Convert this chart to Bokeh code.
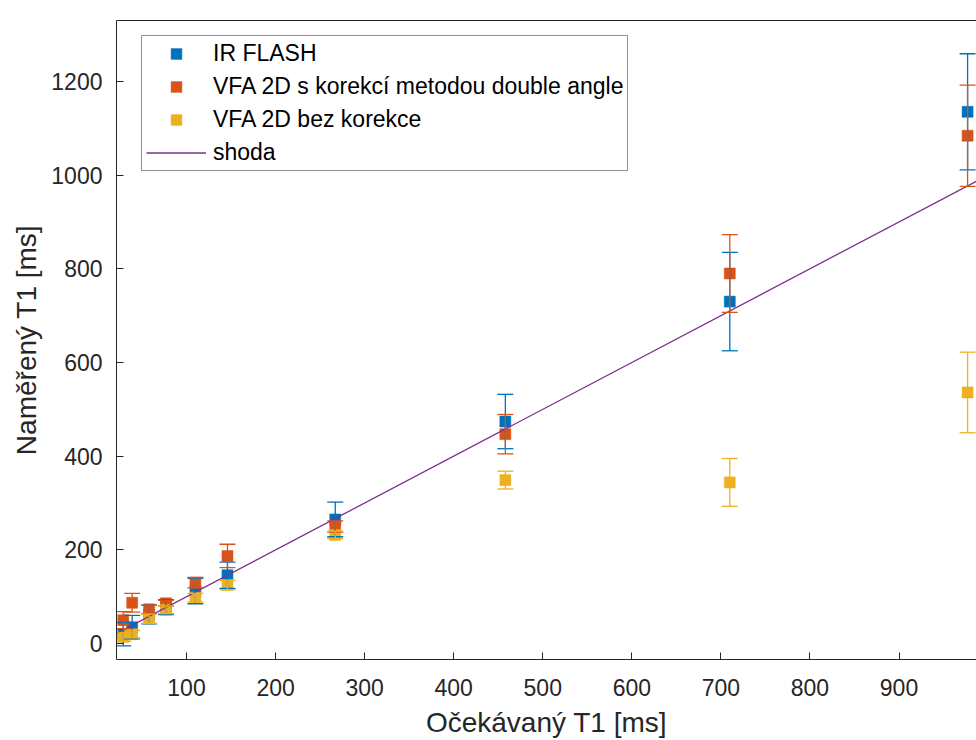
from bokeh.plotting import figure
from bokeh.models import (ColumnDataSource, Range1d, FixedTicker, Whisker, TeeHead,
                          Legend, LegendItem, LinearAxis)
from bokeh.embed import file_html
from bokeh.resources import INLINE

# ---- data ----
expected_t1 = [29, 39, 58, 77, 110, 146, 267, 458, 710, 977]

ir_flash = [20, 35, 62, 78, 112, 146, 265, 474, 730, 1135]
ir_flash_err = [25, 25, 20, 16, 27, 28, 37, 58, 105, 124]

vfa_corr = [50, 87, 73, 86, 130, 187, 250, 447, 790, 1084]
vfa_corr_err = [18, 20, 9, 6, 11, 25, 12, 42, 83, 108]

vfa_raw = [14, 20, 53, 72, 98, 125, 232, 349, 344, 536]
vfa_raw_err = [9, 8, 10, 8, 9, 10, 8, 19, 51, 86]

shoda_x = [0, 1000]
shoda_y = [0, 1000]

x_ticks = [100, 200, 300, 400, 500, 600, 700, 800, 900]
y_ticks = [0, 200, 400, 600, 800, 1000, 1200]

x_label = "Očekávaný T1 [ms]"
y_label = "Naměřený T1 [ms]"
labels = ["IR FLASH", "VFA 2D s korekcí metodou double angle", "VFA 2D bez korekce", "shoda"]
colors = ["#0072BD", "#D95319", "#EDB120"]
line_color = "#7E2F8E"

FONT = "Liberation Sans"
AX = "#262626"

p = figure(width=976, height=740, output_backend="svg", toolbar_location=None,
           x_range=Range1d(21.4, 987), y_range=Range1d(-34, 1330),
           min_border_left=116, min_border_right=0, min_border_top=20, min_border_bottom=81,
           x_axis_label=x_label, y_axis_label=y_label)
p.grid.visible = False
p.outline_line_color = None
p.background_fill_color = "white"
p.border_fill_color = "white"

for ax in (p.xaxis[0], p.yaxis[0]):
    ax.axis_line_color = AX
    ax.major_tick_line_color = AX
    ax.major_tick_in = 7
    ax.major_tick_out = 0
    ax.minor_tick_line_color = None
    ax.major_label_text_font = FONT
    ax.major_label_text_font_size = "23px"
    ax.major_label_text_color = AX
    ax.axis_label_text_font = FONT
    ax.axis_label_text_font_size = "28px"
    ax.axis_label_text_font_style = "normal"
    ax.axis_label_text_color = AX

p.xaxis[0].ticker = FixedTicker(ticks=x_ticks)
p.yaxis[0].ticker = FixedTicker(ticks=y_ticks)
p.xaxis[0].major_label_standoff = 19
p.xaxis[0].axis_label_standoff = 8
p.yaxis[0].major_label_standoff = 14
p.yaxis[0].axis_label_standoff = 6

top_axis = LinearAxis(ticker=FixedTicker(ticks=[]), axis_line_color=AX,
                      major_tick_line_color=None, minor_tick_line_color=None,
                      major_label_text_font_size="0px")
p.add_layout(top_axis, "above")

renderers = []
for vals, errs, col in [(ir_flash, ir_flash_err, colors[0]),
                        (vfa_corr, vfa_corr_err, colors[1]),
                        (vfa_raw, vfa_raw_err, colors[2])]:
    src = ColumnDataSource(dict(
        x=expected_t1, y=vals,
        lo=[v - e for v, e in zip(vals, errs)],
        hi=[v + e for v, e in zip(vals, errs)]))
    w = Whisker(source=src, base="x", lower="lo", upper="hi",
                line_color=col, line_width=1.3, level="glyph",
                upper_head=TeeHead(size=16, line_color=col, line_width=1.3),
                lower_head=TeeHead(size=16, line_color=col, line_width=1.3))
    p.add_layout(w)
    r = p.scatter("x", "y", source=src, marker="square", size=11,
                  fill_color=col, line_color=col, line_alpha=0.5)
    renderers.append(r)

ln = p.line(shoda_x, shoda_y, line_color=line_color, line_width=1.3)
renderers.append(ln)

legend = Legend(items=[LegendItem(label=lab, renderers=[r]) for lab, r in zip(labels, renderers)],
                location=(25, 488), orientation="vertical",
                glyph_width=60, glyph_height=27, label_height=27, spacing=6,
                padding=4, margin=0, label_standoff=7,
                label_text_font=FONT, label_text_font_size="23px", label_text_color="black",
                border_line_color=AX, border_line_width=1, background_fill_color="white",
                background_fill_alpha=1.0)
p.add_layout(legend)

open("out.html", "w").write(file_html(p, INLINE))
